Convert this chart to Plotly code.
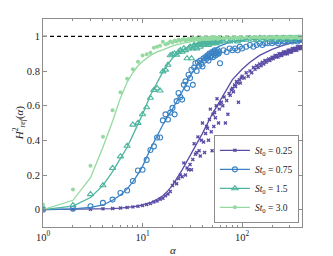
import plotly.graph_objects as go

# ---------------- data ----------------
labels = ["0.25", "0.75", "1.5", "3.0"]
colors = ["#5a4ca5", "#3a82c4", "#4db59e", "#93d9a0"]

# marker alpha grids
alpha_p = list(range(1, 61)) + list(range(62, 101, 2)) + list(range(105, 401, 5))
alpha_o = list(range(1, 61)) + list(range(65, 101, 5)) + list(range(110, 401, 10))

H_p = [0.000, 0.002, 0.003, 0.005, 0.007, 0.010, 0.012, 0.016, 0.020, 0.024,
       0.030, 0.036, 0.044, 0.050, 0.060, 0.066, 0.080, 0.090, 0.105, 0.140,
       0.160, 0.150, 0.180, 0.200, 0.190, 0.270, 0.200, 0.240, 0.230, 0.260,
       0.230, 0.290, 0.380, 0.320, 0.330, 0.420, 0.340, 0.310, 0.400, 0.500,
       0.390, 0.330, 0.440, 0.480, 0.470, 0.400, 0.520, 0.580, 0.450, 0.340,
       0.550, 0.480, 0.560, 0.530, 0.600, 0.640, 0.370, 0.500, 0.580, 0.610,
       0.620, 0.600, 0.650, 0.500, 0.630, 0.550, 0.670, 0.660, 0.690, 0.700,
       0.680, 0.720, 0.710, 0.740, 0.730, 0.620, 0.750, 0.730, 0.760, 0.770,
       0.760, 0.790, 0.770, 0.800, 0.790, 0.820, 0.810, 0.830, 0.820, 0.840,
       0.830, 0.850, 0.840, 0.860, 0.850, 0.860, 0.870, 0.860, 0.870, 0.880,
       0.870, 0.880, 0.890, 0.880, 0.890, 0.880, 0.900, 0.890, 0.900, 0.890,
       0.900, 0.910, 0.900, 0.910, 0.900, 0.910, 0.900, 0.920, 0.910, 0.920,
       0.910, 0.920, 0.910, 0.930, 0.920, 0.920, 0.930, 0.920, 0.930, 0.930,
       0.920, 0.940, 0.930, 0.930, 0.940, 0.930, 0.940, 0.930, 0.940, 0.940]

H_b = [0.000, 0.005, 0.020, 0.039, 0.058, 0.096, 0.111, 0.165, 0.226, 0.230,
       0.287, 0.344, 0.365, 0.416, 0.416, 0.515, 0.550, 0.520, 0.560, 0.587,
       0.550, 0.626, 0.673, 0.650, 0.635, 0.720, 0.740, 0.700, 0.778, 0.760,
       0.807, 0.720, 0.820, 0.845, 0.800, 0.850, 0.830, 0.860, 0.840, 0.826,
       0.873, 0.860, 0.880, 0.870, 0.890, 0.860, 0.900, 0.880, 0.890, 0.910,
       0.880, 0.900, 0.920, 0.890, 0.910, 0.900, 0.920, 0.900, 0.910, 0.845,
       0.920, 0.910, 0.930, 0.920, 0.930, 0.920, 0.940, 0.930,
       0.940, 0.950, 0.940, 0.950, 0.960, 0.950, 0.960, 0.960, 0.970, 0.960,
       0.970, 0.970, 0.960, 0.970, 0.980, 0.970, 0.970, 0.980, 0.970, 0.980,
       0.980, 0.970, 0.980, 0.980, 0.980, 0.970, 0.980, 0.980, 0.990, 0.980]

H_t = [0.010, 0.026, 0.089, 0.140, 0.240, 0.307, 0.368, 0.490, 0.500, 0.550,
       0.590, 0.645, 0.690, 0.700, 0.687, 0.797, 0.807, 0.835, 0.890, 0.896,
       0.900, 0.893, 0.910, 0.920, 0.910, 0.930, 0.920, 0.873, 0.930, 0.940,
       0.873, 0.930, 0.950, 0.940, 0.930, 0.950, 0.960, 0.940, 0.950, 0.960,
       0.950, 0.960, 0.950, 0.970, 0.960, 0.950, 0.970, 0.960, 0.970, 0.960,
       0.970, 0.960, 0.970, 0.980, 0.960, 0.970, 0.980, 0.970, 0.970, 0.980,
       0.970, 0.980, 0.970, 0.980, 0.980, 0.970, 0.980, 0.980,
       0.980, 0.990, 0.980, 0.980, 0.990, 0.980, 0.990, 0.980, 0.990, 0.990,
       0.980, 0.990, 0.990, 0.980, 0.990, 0.990, 0.990, 0.980, 0.990, 0.990,
       0.990, 0.990, 0.980, 0.990, 0.990, 0.990, 0.990, 0.990, 0.990, 0.990]

H_g = [0.030, 0.117, 0.254, 0.420, 0.573, 0.677, 0.755, 0.810, 0.854, 0.889,
       0.896, 0.906, 0.934, 0.940, 0.945, 0.969, 0.955, 0.959, 0.970, 0.965,
       0.975, 0.970, 0.980, 0.975, 0.980, 0.985, 0.975, 0.980, 0.985, 0.980,
       0.985, 0.990, 0.980, 0.985, 0.990, 0.985, 0.980, 0.990, 0.985, 0.990,
       0.985, 0.990, 0.990, 0.985, 0.990, 0.990, 0.985, 0.990, 0.995, 0.990,
       0.985, 0.990, 0.990, 0.995, 0.990, 0.990, 0.985, 0.990, 0.995, 0.990,
       0.990, 0.995, 0.990, 0.990, 0.995, 0.990, 0.995, 0.990,
       0.995, 0.990, 0.995, 0.995, 0.990, 0.995, 0.995, 0.990, 0.995, 0.995,
       0.995, 0.990, 0.995, 0.995, 0.995, 0.990, 0.995, 0.995, 0.995, 0.995,
       0.990, 0.995, 0.995, 0.995, 0.995, 0.995, 0.990, 0.995, 0.995, 0.995]

# fitted curves
alpha_fit = [1, 2, 3, 4, 5, 6, 7, 8, 9, 10, 12, 14, 16, 18, 20, 25, 30, 35, 40,
             50, 60, 70, 80, 100, 120, 150, 200, 250, 300, 400]
F_p = [0.000, 0.001, 0.002, 0.004, 0.006, 0.009, 0.012, 0.016, 0.021, 0.027,
       0.040, 0.060, 0.080, 0.110, 0.140, 0.230, 0.310, 0.380, 0.440, 0.550,
       0.630, 0.700, 0.750, 0.810, 0.850, 0.890, 0.925, 0.945, 0.960, 0.975]
F_b = [0.000, 0.004, 0.013, 0.027, 0.054, 0.085, 0.120, 0.160, 0.205, 0.250,
       0.350, 0.430, 0.490, 0.540, 0.580, 0.680, 0.770, 0.830, 0.870, 0.920,
       0.945, 0.960, 0.970, 0.978, 0.982, 0.985, 0.988, 0.990, 0.991, 0.992]
F_t = [0.000, 0.020, 0.070, 0.140, 0.220, 0.300, 0.360, 0.430, 0.490, 0.550,
       0.660, 0.735, 0.795, 0.840, 0.875, 0.920, 0.945, 0.960, 0.970, 0.980,
       0.985, 0.988, 0.990, 0.992, 0.993, 0.994, 0.995, 0.996, 0.996, 0.997]
F_g = [0.000, 0.054, 0.184, 0.360, 0.510, 0.645, 0.735, 0.790, 0.830, 0.855,
       0.890, 0.910, 0.922, 0.935, 0.945, 0.960, 0.970, 0.975, 0.978, 0.983,
       0.986, 0.988, 0.990, 0.992, 0.993, 0.994, 0.995, 0.996, 0.996, 0.997]

ref_level = [1.0, 1.0]
ref_alpha = [1, 400]

series = [
    (alpha_p, H_p, F_p, dict(symbol="x", size=3.5, line=dict(width=0))),
    (alpha_o, H_b, F_b, dict(symbol="circle-open", size=5, line=dict(width=1.1))),
    (alpha_o, H_t, F_t, dict(symbol="triangle-up-open", size=5.5, line=dict(width=1.1))),
    (alpha_o, H_g, F_g, dict(symbol="circle", size=4, line=dict(width=0))),
]

FONT = "Liberation Serif"
fig = go.Figure()

fig.add_trace(go.Scatter(x=ref_alpha, y=ref_level, mode="lines",
                         line=dict(color="black", width=1.2, dash="4px,3px"),
                         showlegend=False, hoverinfo="skip"))

for (ax, hv, fv, mk), lab, col in zip(series, labels, colors):
    m = dict(mk)
    m["color"] = col
    if "line" in m:
        m["line"] = dict(m["line"], color=col)
    fig.add_trace(go.Scatter(x=ax, y=hv, mode="markers", marker=m, showlegend=False))
    fig.add_trace(go.Scatter(x=alpha_fit, y=fv, mode="lines",
                             line=dict(color=col, width=1.3), showlegend=False))

for (ax, hv, fv, mk), lab, col in zip(series, labels, colors):
    m = dict(mk)
    m["color"] = col
    if "line" in m:
        m["line"] = dict(m["line"], color=col)
    fig.add_trace(go.Scatter(x=[None], y=[None], mode="lines+markers",
                             marker=m, line=dict(color=col, width=1.3),
                             name="<i>St</i><sub>0</sub> = " + lab))

axis_common = dict(showline=True, linecolor="#8c8c8c", linewidth=1, mirror="ticks",
                   ticks="inside", ticklen=4, tickcolor="#8c8c8c", showgrid=False,
                   zeroline=False, automargin=False,
                   tickfont=dict(family=FONT, size=10.5, color="#222"))

fig.update_xaxes(type="log", range=[0, 2.602],
                 tickvals=[1, 10, 100],
                 ticktext=["10<sup>0</sup>", "10<sup>1</sup>", "10<sup>2</sup>"],
                 minor=dict(tickvals=[2, 3, 4, 5, 6, 7, 8, 9, 20, 30, 40, 50, 60, 70, 80, 90, 200, 300, 400],
                            ticks="inside", ticklen=2, tickcolor="#8c8c8c"),
                 **axis_common)
fig.update_yaxes(range=[-0.1, 1.1], tickvals=[0, 0.2, 0.4, 0.6, 0.8, 1],
                 ticktext=["0", "0.2", "0.4", "0.6", "0.8", "1"], **axis_common)

# the page adds an 8px body margin, so the figure is drawn 8px smaller
fig.update_layout(
    width=325, height=248,
    margin=dict(l=35, r=31, t=11, b=29),
    paper_bgcolor="white", plot_bgcolor="white",
    font=dict(family=FONT, size=10.5, color="#222"),
    legend=dict(x=0.988, xanchor="right", y=0.02, yanchor="bottom",
                bgcolor="white", bordercolor="#8c8c8c", borderwidth=1,
                font=dict(family=FONT, size=9.5, color="#222"),
                itemwidth=30, tracegroupgap=0),
    annotations=[
        dict(text="<i>α</i>", xref="paper", yref="paper", x=0.5, y=-0.11,
             xanchor="center", yanchor="middle", showarrow=False,
             font=dict(family=FONT, size=11, color="#222")),
        dict(text="<i>H</i><sup>2</sup><sub><i>ref</i></sub>(<i>α</i>)", xref="paper", yref="paper",
             x=-0.092, y=0.5, xanchor="center", yanchor="middle", textangle=-90,
             showarrow=False, font=dict(family=FONT, size=11, color="#222")),
    ],
)

fig.write_html("out.html")
